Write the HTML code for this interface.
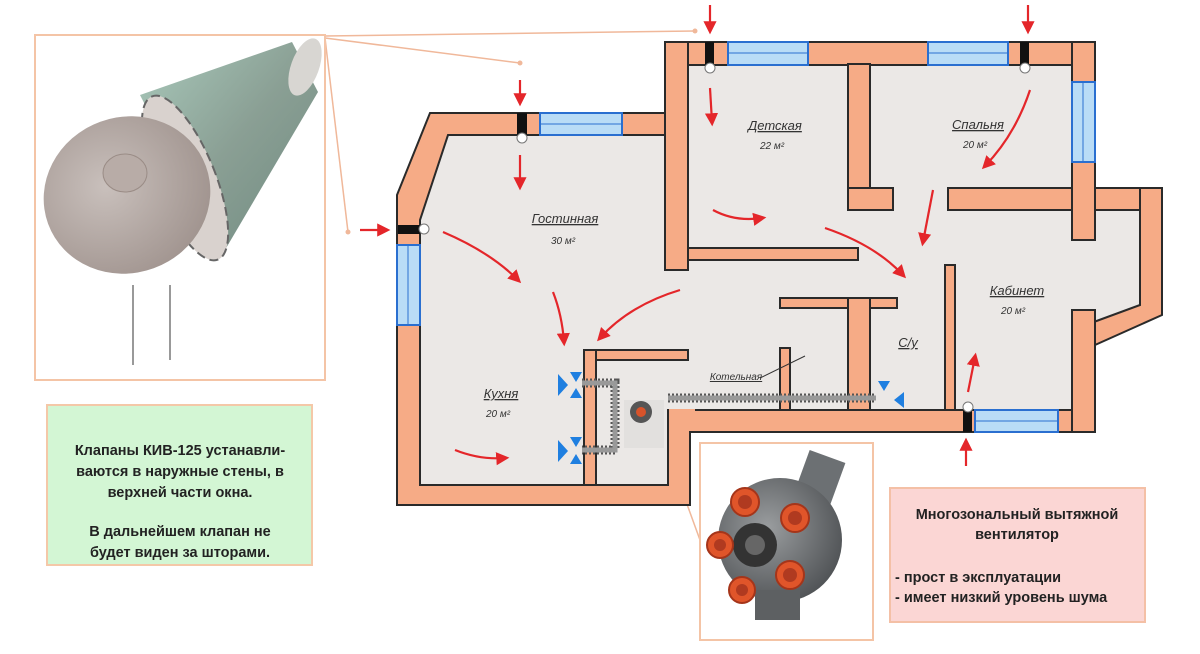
<!DOCTYPE html>
<html><head><meta charset="utf-8"><style>
html,body{margin:0;padding:0;background:#fff;}
svg{display:block;}
text{font-family:"Liberation Sans",sans-serif;}
.rl{font-style:italic;font-size:13px;fill:#333;text-decoration:underline;}
.ar{font-style:italic;font-size:10px;fill:#333;}
.w{fill:#f6ab86;stroke:#2a2a2a;stroke-width:2;}
.win{fill:#b9dcf6;stroke:#2a6fd0;stroke-width:2;}
.a{stroke:#e4262a;stroke-width:2.2;fill:none;marker-end:url(#ah);}
</style></head><body>
<svg width="1200" height="654" viewBox="0 0 1200 654" xmlns="http://www.w3.org/2000/svg">
<defs>
<marker id="ah" markerWidth="6" markerHeight="6" refX="4" refY="3" orient="auto" markerUnits="strokeWidth"><path d="M0,0 L6,3 L0,6 z" fill="#e4262a"/></marker>
<linearGradient id="cyl" x1="0" y1="0" x2="1" y2="1"><stop offset="0" stop-color="#a9c9bb"/><stop offset="0.5" stop-color="#8a9f94"/><stop offset="1" stop-color="#6f8a80"/></linearGradient>
<radialGradient id="disc" cx="0.4" cy="0.4" r="0.7"><stop offset="0" stop-color="#c9c0bc"/><stop offset="1" stop-color="#9e918c"/></radialGradient>
<radialGradient id="fan" cx="0.4" cy="0.4" r="0.7"><stop offset="0" stop-color="#9a9d9f"/><stop offset="1" stop-color="#4a4d50"/></radialGradient>
</defs>

<g stroke="#f0b89a" stroke-width="1.5" fill="none">
<path d="M325,36 L695,31"/><path d="M325,38 L520,63"/><path d="M325,38 L348,232"/>
<path d="M660,430 L700,540"/>
</g>
<circle cx="695" cy="31" r="2.5" fill="#f0b89a"/><circle cx="520" cy="63" r="2.5" fill="#f0b89a"/><circle cx="348" cy="232" r="2.5" fill="#f0b89a"/>

<rect x="35" y="35" width="290" height="345" fill="#fff" stroke="#f4c4a6" stroke-width="2"/>
<polygon points="140,95 292,42 318,92 222,255" fill="url(#cyl)"/>
<ellipse cx="305" cy="67" rx="14" ry="30" fill="#d8d6d2" transform="rotate(20 305 67)"/>
<ellipse cx="185" cy="178" rx="30" ry="88" fill="#d9d2ce" stroke="#666" stroke-width="2" stroke-dasharray="9 5" transform="rotate(-22 185 178)"/>
<ellipse cx="127" cy="195" rx="84" ry="78" fill="url(#disc)" transform="rotate(-20 127 195)"/>
<ellipse cx="125" cy="173" rx="22" ry="19" fill="#b8aca7" stroke="#9a8c86"/>
<line x1="133" y1="285" x2="133" y2="365" stroke="#999" stroke-width="2"/>
<line x1="170" y1="285" x2="170" y2="360" stroke="#999" stroke-width="2"/>

<rect x="47" y="405" width="265" height="160" fill="#d3f6d4" stroke="#f4c8a8" stroke-width="2"/>
<g font-size="14.5" font-weight="bold" fill="#222" text-anchor="middle">
<text x="180" y="455">Клапаны КИВ-125 устанавли-</text>
<text x="180" y="476">ваются в наружные стены, в</text>
<text x="180" y="497">верхней части окна.</text>
<text x="180" y="536">В дальнейшем клапан не</text>
<text x="180" y="557">будет виден за шторами.</text>
</g>

<polygon class="w" points="665,42 1095,42 1095,188 1162,188 1162,315 1095,345 1095,432 690,432 690,505 397,505 397,195 430,113 665,113"/>
<polygon fill="#ebe8e6" stroke="#2a2a2a" stroke-width="2" points="688,65 1072,65 1072,210 1140,210 1140,305 1072,330 1072,410 668,410 668,485 420,485 420,220 448,135 688,135"/>
<rect class="w" x="665" y="42" width="23" height="228"/>
<rect class="w" x="688" y="248" width="170" height="12"/>
<rect class="w" x="848" y="64" width="22" height="146"/>
<rect class="w" x="848" y="188" width="45" height="22"/>
<rect class="w" x="948" y="188" width="192" height="22"/>
<rect class="w" x="1072" y="42" width="23" height="198"/>
<rect class="w" x="1072" y="310" width="23" height="122"/>
<rect class="w" x="945" y="265" width="10" height="145"/>
<rect class="w" x="780" y="298" width="117" height="10"/>
<rect class="w" x="848" y="298" width="22" height="112"/>
<rect class="w" x="780" y="348" width="10" height="62"/>
<rect class="w" x="584" y="350" width="104" height="10"/>
<rect class="w" x="584" y="350" width="12" height="135"/>
<rect x="669" y="409" width="26" height="22" fill="#f6ab86"/>

<g>
<rect class="win" x="728" y="42" width="80" height="23"/><line x1="728" y1="53" x2="808" y2="53" stroke="#2a6fd0"/>
<rect class="win" x="928" y="42" width="80" height="23"/><line x1="928" y1="53" x2="1008" y2="53" stroke="#2a6fd0"/>
<rect class="win" x="1072" y="82" width="23" height="80"/><line x1="1083" y1="82" x2="1083" y2="162" stroke="#2a6fd0"/>
<rect class="win" x="540" y="113" width="82" height="22"/><line x1="540" y1="124" x2="622" y2="124" stroke="#2a6fd0"/>
<rect class="win" x="397" y="245" width="23" height="80"/><line x1="408" y1="245" x2="408" y2="325" stroke="#2a6fd0"/>
<rect class="win" x="975" y="410" width="83" height="22"/><line x1="975" y1="421" x2="1058" y2="421" stroke="#2a6fd0"/>
</g>
<g fill="#111">
<rect x="705" y="42" width="9" height="23"/><rect x="1020" y="42" width="9" height="23"/>
<rect x="517" y="113" width="10" height="22"/><rect x="398" y="225" width="22" height="9"/>
<rect x="963" y="410" width="9" height="22"/>
</g>
<g fill="#fff" stroke="#777">
<circle cx="710" cy="68" r="5"/><circle cx="1025" cy="68" r="5"/><circle cx="522" cy="138" r="5"/><circle cx="424" cy="229" r="5"/><circle cx="968" cy="407" r="5"/>
</g>

<g stroke="#555" stroke-width="9" fill="none" stroke-dasharray="2 2">
<path d="M582,383 L615,383 L615,450 L582,450"/>
<path d="M668,398 L876,398"/>
</g>
<g stroke="#999" stroke-width="5" fill="none">
<path d="M582,383 L615,383 L615,450 L582,450"/>
<path d="M668,398 L876,398"/>
</g>
<rect x="624" y="400" width="40" height="48" fill="#e2e0de"/>
<circle cx="641" cy="412" r="11" fill="#555"/><circle cx="641" cy="412" r="5" fill="#d8532a"/>
<g fill="#1f7fe0">
<path d="M558,374 L568,385 L558,396z M570,372 L582,372 L576,382z M570,398 L582,398 L576,388z"/>
<path d="M558,440 L568,451 L558,462z M570,437 L582,437 L576,447z M570,464 L582,464 L576,454z"/>
<path d="M878,381 L890,381 L884,391z M904,392 L894,400 L904,408z"/>
</g>
<line x1="760" y1="378" x2="805" y2="356" stroke="#333" stroke-width="1"/>

<text class="rl" x="565" y="223" text-anchor="middle">Гостинная</text><text class="ar" x="563" y="244" text-anchor="middle">30 м²</text>
<text class="rl" x="775" y="130" text-anchor="middle">Детская</text><text class="ar" x="772" y="149" text-anchor="middle">22 м²</text>
<text class="rl" x="978" y="129" text-anchor="middle">Спальня</text><text class="ar" x="975" y="148" text-anchor="middle">20 м²</text>
<text class="rl" x="1017" y="295" text-anchor="middle">Кабинет</text><text class="ar" x="1013" y="314" text-anchor="middle">20 м²</text>
<text class="rl" x="908" y="347" text-anchor="middle">C/y</text>
<text class="rl" x="501" y="398" text-anchor="middle">Кухня</text><text class="ar" x="498" y="417" text-anchor="middle">20 м²</text>
<text class="ar" x="736" y="380" text-anchor="middle" style="text-decoration:underline">Котельная</text>

<path class="a" d="M710,5 L710,30"/><path class="a" d="M1028,5 L1028,30"/>
<path class="a" d="M520,80 L520,102"/><path class="a" d="M360,230 L386,230"/>
<path class="a" d="M966,466 L966,442"/>
<path class="a" d="M710,88 L712,122"/>
<path class="a" d="M1030,90 Q1015,135 985,166"/>
<path class="a" d="M520,155 L520,186"/>
<path class="a" d="M443,232 Q490,252 518,280"/>
<path class="a" d="M553,292 Q562,315 564,342"/>
<path class="a" d="M680,290 Q630,305 600,338"/>
<path class="a" d="M455,450 Q480,460 505,458"/>
<path class="a" d="M713,210 Q735,222 762,218"/>
<path class="a" d="M825,228 Q875,245 903,275"/>
<path class="a" d="M933,190 L923,242"/>
<path class="a" d="M968,392 L975,357"/>

<rect x="700" y="443" width="173" height="197" fill="#fff" stroke="#f4c4a6" stroke-width="2"/>
<rect x="800" y="455" width="38" height="50" fill="#6c7073" transform="rotate(20 819 480)"/>
<circle cx="780" cy="540" r="62" fill="url(#fan)"/>
<rect x="755" y="590" width="45" height="30" fill="#5d6062"/>
<circle cx="755" cy="545" r="22" fill="#333"/><circle cx="755" cy="545" r="10" fill="#666"/>
<g fill="#e0552a" stroke="#a5351a" stroke-width="2">
<circle cx="745" cy="502" r="14"/><circle cx="795" cy="518" r="14"/><circle cx="720" cy="545" r="13"/>
<circle cx="790" cy="575" r="14"/><circle cx="742" cy="590" r="13"/>
</g>
<g fill="#b03a20"><circle cx="745" cy="502" r="7"/><circle cx="795" cy="518" r="7"/><circle cx="720" cy="545" r="6"/><circle cx="790" cy="575" r="7"/><circle cx="742" cy="590" r="6"/></g>

<rect x="890" y="488" width="255" height="134" fill="#fbd6d4" stroke="#f4c0a6" stroke-width="2"/>
<g font-size="14.5" font-weight="bold" fill="#222">
<text x="1017" y="519" text-anchor="middle">Многозональный вытяжной</text>
<text x="1017" y="539" text-anchor="middle">вентилятор</text>
<text x="895" y="582">- прост  в эксплуатации</text>
<text x="895" y="602">- имеет низкий уровень шума</text>
</g>
</svg>
</body></html>
